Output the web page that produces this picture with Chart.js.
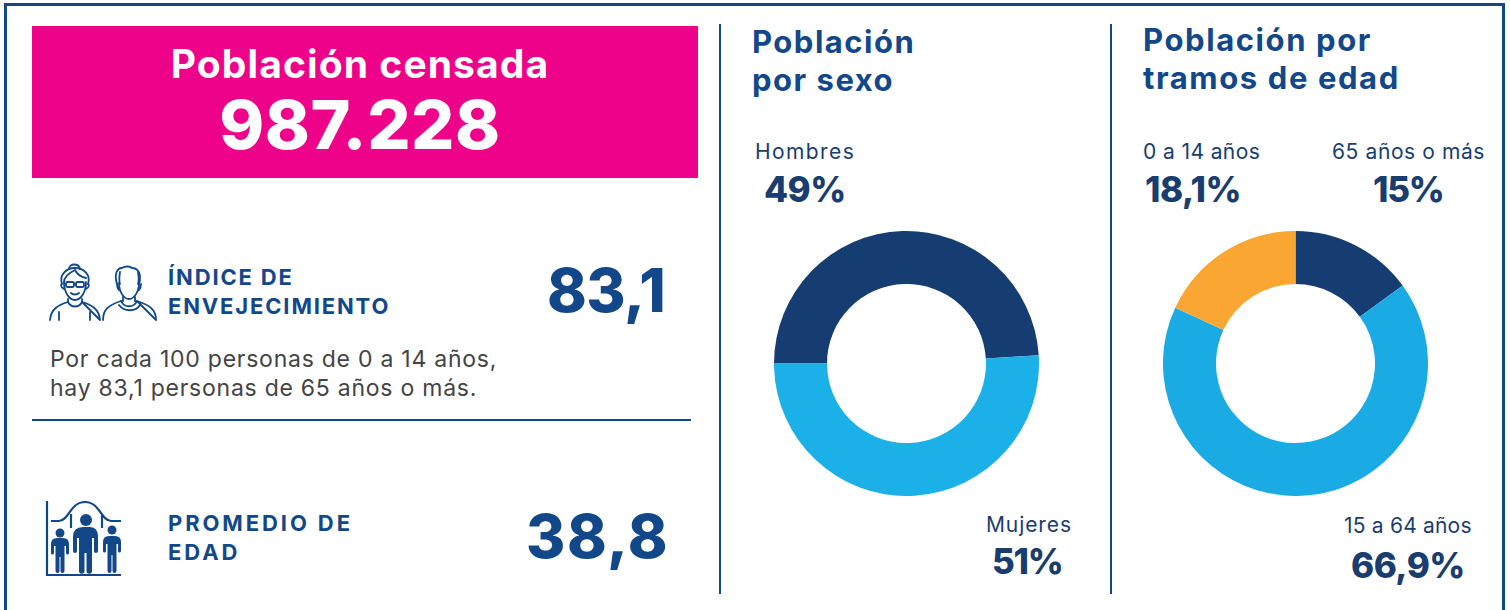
<!DOCTYPE html>
<html lang="es">
<head>
<meta charset="utf-8">
<title>Población censada</title>
<script src="https://cdn.jsdelivr.net/npm/chart.js@4"></script>
<style>
  html, body { margin: 0; padding: 0; background: #fff; }
  body { width: 1510px; height: 610px; position: relative; overflow: hidden;
         font-family: Inter, "Open Sans", sans-serif; color: #12488a; }
  .t { position: absolute; white-space: nowrap; }
  .line { position: absolute; background: #12488a; }
  .chart { position: absolute; width: 265px; height: 265px; top: 231px; }
  .head { font-size: 31px; font-weight: 700; line-height: 38px; letter-spacing: 1.5px; }
  .sub { font-size: 22px; font-weight: 700; line-height: 29px; }
  .big { font-size: 60px; font-weight: 800; letter-spacing: -.5px; }
  .lab { font-size: 21px; color: #1a3d70; font-weight: 400; text-align: center; }
  .pct { font-size: 35px; color: #1a3d70; font-weight: 800; text-align: center; letter-spacing: -.5px; }
  .body { font-size: 23px; line-height: 29px; color: #444; letter-spacing: .75px; }
  #banner { position: absolute; left: 32px; top: 26px; width: 666px; height: 152px; background: #ee028a; color: #fff; text-align: center; }
</style>
</head>
<body>
<div class="line" style="left:4px;top:3px;width:3px;height:607px"></div>
<div class="line" style="left:4px;top:3px;width:1501px;height:3px"></div>
<div class="line" style="left:1502px;top:3px;width:3px;height:607px"></div>
<div class="line" style="left:719px;top:24px;width:2px;height:570px"></div>
<div class="line" style="left:1110px;top:24px;width:2px;height:570px"></div>
<div class="line" style="left:32px;top:419px;width:659px;height:2px"></div>

<div id="banner">
  <div class="t" style="left:-5px;width:666px;top:14px;font-size:39px;font-weight:700;letter-spacing:1.1px">Población censada</div>
  <div class="t" style="left:-5px;width:666px;top:57px;font-size:68px;font-weight:800;letter-spacing:.6px" id="total"></div>
</div>

<svg class="t" style="left:48px;top:260px" width="110" height="62" viewBox="0 0 110 62" fill="none" stroke="#12488a" stroke-width="1.8" stroke-linejoin="round" stroke-linecap="round">
  <path d="M21 9c0-6 10-6 11 0"/>
  <path d="M14 24c-3-9 4-16 13-16s16 7 13 16"/>
  <path d="M16 22c0-5 5-9 11-12c2 4 6 7 11 8"/>
  <path d="M16 22c0 10 5 18 11 18s11-8 11-18M14 24c-1 0-2 3 2 5M40 24c1 0 2 3-2 5"/>
  <rect x="18" y="22" width="8" height="5" rx="1.5"/><rect x="28" y="22" width="8" height="5" rx="1.5"/>
  <path d="M26 24h2M23 33c2 2 6 2 8 0M20 39v3c3 6 11 6 14 0v-3"/>
  <path d="M2 60c1-11 8-15 18-18M34 42c10 3 17 7 18 18zM11 52v8M42 52v8"/>
  <path d="M69 24c-3-10 0-16 5-16c3-2 8-2 10 0c6 0 10 6 7 16"/>
  <path d="M72 12c-1 6-1 9 0 12M90 12c1 6 1 9 0 12"/>
  <path d="M71 23c0 9 5 16 10 16s10-7 10-16M69 24c0 3 1 5 2 6M93 24c0 3-1 5-2 6"/>
  <path d="M75 37v4M87 37v4M73 41c3 7 13 7 16 0M71 45c5 7 17 7 21 0"/>
  <path d="M55 60c0-11 6-15 18-19M89 41c12 4 19 8 19 19z"/>
</svg>
<div class="t sub" style="left:168px;top:263px;letter-spacing:1.85px">ÍNDICE DE<br>ENVEJECIMIENTO</div>
<div class="t big" style="left:547px;top:254px" id="indice"></div>
<div class="t body" style="left:50px;top:345px">Por cada 100 personas de 0 a 14 años,<br>hay 83,1 personas de 65 años o más.</div>

<svg class="t" style="left:44px;top:500px" width="80" height="78" viewBox="0 0 80 78" fill="#12488a" stroke="none">
  <path d="M3 1v74h74" fill="none" stroke="#12488a" stroke-width="2.2"/>
  <path d="M7 21h8c10 0 11-19 26-19s16 19 26 19h10M27 14v14M58 14v14" fill="none" stroke="#12488a" stroke-width="2.2"/>
  <circle cx="42" cy="20" r="6"/><circle cx="16" cy="33" r="4.5"/><circle cx="68" cy="30" r="4.5"/>
  <path d="M29 37q0-10 10-10h7q8 0 8 10v14a2 2 0 0 1-4 0V38h-2v33a2.75 2.75 0 0 1-5.5 0V53h-2v18a2.75 2.75 0 0 1-5.5 0V38h-2v13a2 2 0 0 1-4 0z"/>
  <path d="M7 44q0-6 6-6h6q6 0 6 6v9a1.5 1.5 0 0 1-3 0V46h-1.5v25a2 2 0 0 1-4 0V57h-1v14a2 2 0 0 1-4 0V46H10v7a1.5 1.5 0 0 1-3 0z"/>
  <path transform="translate(52,-2)" d="M7 44q0-6 6-6h6q6 0 6 6v9a1.5 1.5 0 0 1-3 0V46h-1.5v27a2 2 0 0 1-4 0V57h-1v16a2 2 0 0 1-4 0V46H10v7a1.5 1.5 0 0 1-3 0z"/>
</svg>
<div class="t sub" style="left:168px;top:509px;letter-spacing:2.9px">PROMEDIO DE<br>EDAD</div>
<div class="t big" style="left:526px;top:500px;letter-spacing:1.5px" id="promedio"></div>

<div class="t head" style="left:752px;top:23px">Población<br>por sexo</div>
<div class="t head" style="left:1143px;top:21px;letter-spacing:1.6px">Población por<br>tramos de edad</div>

<div class="t lab" style="left:755px;top:139px;letter-spacing:1.4px" id="labSex0"></div>
<div class="t pct" style="left:764px;top:168px" id="pctSex0"></div>
<div class="t lab" style="left:986px;top:512px;letter-spacing:.9px" id="labSex1"></div>
<div class="t pct" style="left:992px;top:540px;letter-spacing:-1.2px" id="pctSex1"></div>

<div class="t lab" style="left:1143px;top:139px;letter-spacing:.4px" id="labAge2"></div>
<div class="t pct" style="left:1145px;top:168px" id="pctAge2"></div>
<div class="t lab" style="left:1332px;top:139px;letter-spacing:.6px" id="labAge0"></div>
<div class="t pct" style="left:1373px;top:168px;letter-spacing:-1.2px" id="pctAge0"></div>
<div class="t lab" style="left:1344px;top:513px;letter-spacing:.2px" id="labAge1"></div>
<div class="t pct" style="left:1351px;top:544px" id="pctAge1"></div>

<div class="chart" style="left:774px"><canvas id="chart-sexo" width="265" height="265"></canvas></div>
<div class="chart" style="left:1163px"><canvas id="chart-edad" width="265" height="265"></canvas></div>

<script>
const TOTAL = '987.228';
const INDICE = '83,1';
const PROMEDIO = '38,8';

const sexLabels = ['Hombres', 'Mujeres'];
const sexValues = [49, 51];
const sexColors = ['#163d72', '#1bb0e8'];

// orden del anillo: parte arriba y sigue en sentido horario
const ageLabels = ['65 años o más', '15 a 64 años', '0 a 14 años'];
const ageValues = [15, 66.9, 18.1];
const ageColors = ['#163d72', '#1aabe4', '#faa633'];

function pctText(v) {
  return String(v).replace('.', ',') + '%';
}

function setText(id, txt) {
  document.getElementById(id).textContent = txt;
}

function buildDonut(canvasId, labels, data, colors, rotation) {
  new Chart(document.getElementById(canvasId), {
    type: 'doughnut',
    data: {
      labels,
      datasets: [{ data, backgroundColor: colors, borderWidth: 0 }],
    },
    options: {
      responsive: false,
      animation: false,
      rotation,
      cutout: '60%',
      plugins: {
        legend: { display: false },
        tooltip: { enabled: false },
      },
    },
  });
}

setText('total', TOTAL);
setText('indice', INDICE);
setText('promedio', PROMEDIO);
sexLabels.forEach((l, i) => {
  setText('labSex' + i, l);
  setText('pctSex' + i, pctText(sexValues[i]));
});
ageLabels.forEach((l, i) => {
  setText('labAge' + i, l);
  setText('pctAge' + i, pctText(ageValues[i]));
});

buildDonut('chart-sexo', sexLabels, sexValues, sexColors, -90);
buildDonut('chart-edad', ageLabels, ageValues, ageColors, 0);
</script>
</body>
</html>
